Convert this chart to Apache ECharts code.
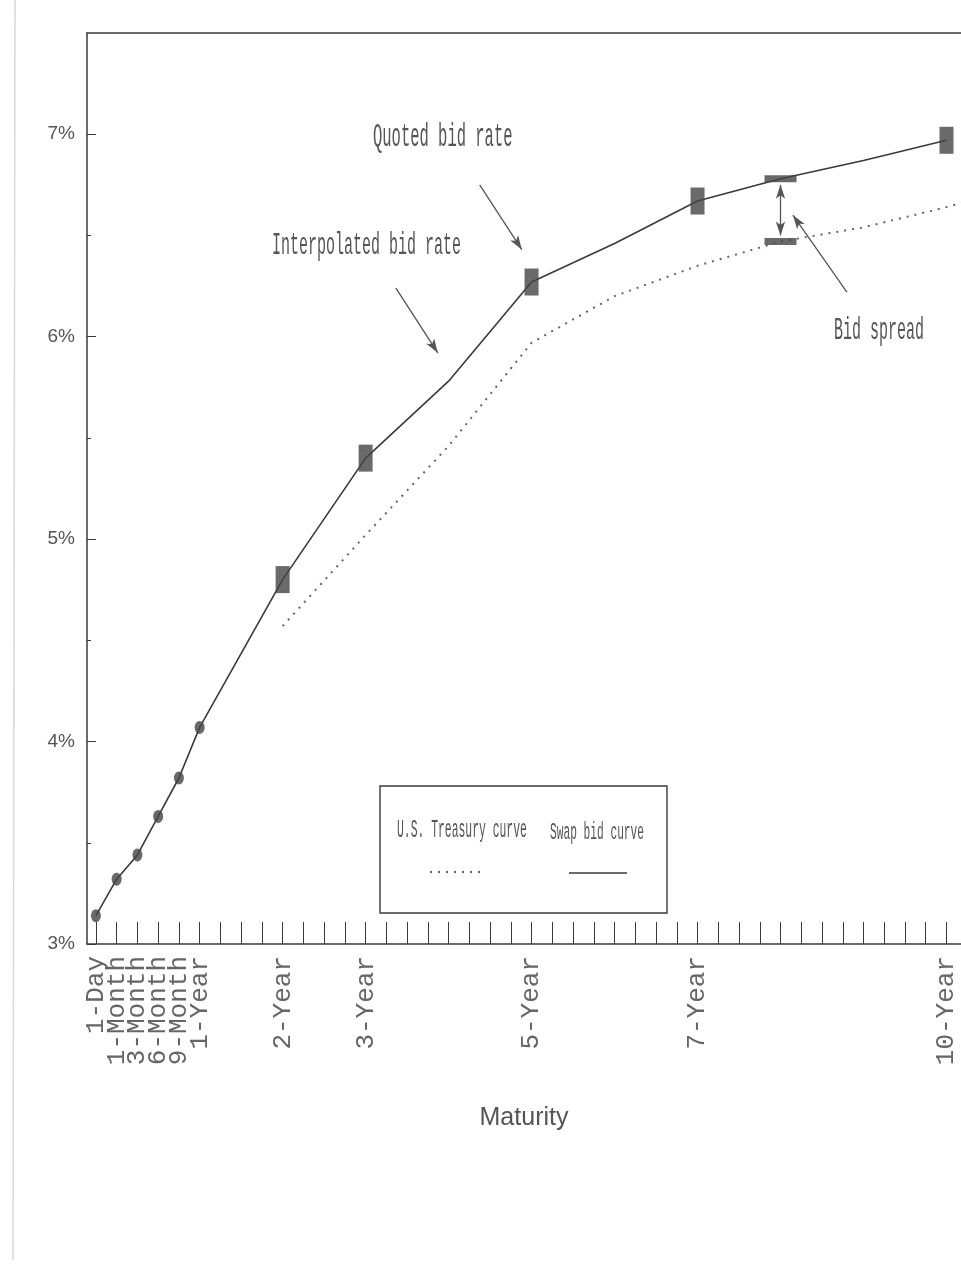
<!DOCTYPE html>
<html>
<head>
<meta charset="utf-8">
<script src="https://cdn.jsdelivr.net/npm/echarts@6/dist/echarts.min.js"></script>
<style>
html, body { margin: 0; padding: 0; background: #fff; }
#chart { width: 961px; height: 1270px; }
</style>
</head>
<body>
<div id="chart"></div>
<script>
// x axis runs in quarters of a year: 1-Year = 5, 2-Year = 9 ... 10-Year = 41
var maturityLabels = ['1-Day', '1-Month', '3-Month', '6-Month', '9-Month', '1-Year', '2-Year', '3-Year', '5-Year', '7-Year', '10-Year'];
var maturityPos = [0, 1, 2, 3, 4, 5, 9, 13, 21, 29, 41];

// swap bid curve (quoted + interpolated points)
var swapPos = [0, 1, 2, 3, 4, 5, 9, 13, 17, 21, 25, 29, 33, 37, 41];
var swapRates = [3.14, 3.32, 3.44, 3.63, 3.82, 4.07, 4.80, 5.40, 5.78, 6.27, 6.46, 6.67, 6.78, 6.87, 6.97];

// U.S. treasury curve (dotted)
var treasuryPos = [9, 13, 17, 21, 25, 29, 33, 37, 41, 41.7];
var treasuryRates = [4.57, 5.02, 5.46, 5.97, 6.20, 6.35, 6.47, 6.54, 6.64, 6.66];

// bid spread shown at 8-Year
var spreadPos = 33;
var spreadTop = 6.78;
var spreadBottom = 6.47;

var yMajorTicks = [3, 4, 5, 6, 7];
var yHalfTicks = [3.5, 4.5, 5.5, 6.5];

var xMin = -0.43, xMax = 41.7;

var quarterTicks = [];
for (var i = 0; i <= 41; i++) quarterTicks.push(i);

function pairs(xs, ys) {
    return xs.map(function (x, k) { return [x, ys[k]]; });
}

// quoted points: the swap points that sit on a labelled maturity
var quotedShort = [], quotedLong = [];
swapPos.forEach(function (p, k) {
    if (maturityPos.indexOf(p) < 0) return;
    if (p <= 5) quotedShort.push([p, swapRates[k]]);
    else quotedLong.push([p, swapRates[k]]);
});

// blank label at the right end goes first so the crowded short-end labels are not dropped
var labelValues = [xMax].concat(maturityPos);

var ink = '#3a3a3a';
var textInk = '#555';
var mono = '"Liberation Mono", "DejaVu Sans Mono", monospace';
var sans = '"Liberation Sans", Arial, sans-serif';

var chart = echarts.init(document.getElementById('chart'));

var option = {
    backgroundColor: '#fff',
    animation: false,
    grid: { left: 87, right: 0, top: 33, bottom: 326, containLabel: false },
    xAxis: [{
        type: 'value',
        min: xMin,
        max: xMax,
        axisLine: { onZero: false, lineStyle: { color: ink, width: 1.5 } },
        axisTick: { inside: true, length: 22, customValues: quarterTicks, lineStyle: { color: ink, width: 1 } },
        splitLine: { show: false },
        axisLabel: {
            customValues: labelValues,
            showMinLabel: true,
            showMaxLabel: true,
            hideOverlap: false,
            rotate: 90,
            margin: 12,
            color: '#666',
            fontFamily: mono,
            fontSize: 26,
            formatter: function (v) {
                var k = maturityPos.indexOf(v);
                return k < 0 ? '' : maturityLabels[k];
            }
        },
        name: 'Maturity',
        nameLocation: 'middle',
        nameGap: 162,
        nameTextStyle: { color: textInk, fontFamily: sans, fontSize: 25 }
    }, {
        type: 'value',
        position: 'top',
        min: xMin,
        max: xMax,
        axisLine: { onZero: false, lineStyle: { color: ink, width: 1.5 } },
        axisTick: { show: false },
        axisLabel: { show: false },
        splitLine: { show: false }
    }],
    yAxis: [{
        type: 'value',
        min: 3,
        max: 7.5,
        axisLine: { show: true, onZero: false, lineStyle: { color: ink, width: 1.5 } },
        axisTick: { inside: true, length: 9, customValues: yMajorTicks, lineStyle: { color: ink } },
        splitLine: { show: false },
        axisLabel: {
            customValues: yMajorTicks,
            showMinLabel: true,
            margin: 12,
            color: textInk,
            fontFamily: sans,
            fontSize: 19,
            formatter: function (v) { return v + '%'; }
        }
    }, {
        type: 'value',
        position: 'left',
        min: 3,
        max: 7.5,
        axisLine: { show: false, onZero: false },
        axisTick: { inside: true, length: 4, customValues: yHalfTicks, lineStyle: { color: ink } },
        axisLabel: { show: false },
        splitLine: { show: false }
    }],
    series: [{
        name: 'U.S. Treasury curve',
        type: 'line',
        data: pairs(treasuryPos, treasuryRates),
        showSymbol: false,
        lineStyle: { color: '#666', width: 2, type: [2, 6] },
        silent: true,
        z: 2
    }, {
        name: 'Swap bid curve',
        type: 'line',
        data: pairs(swapPos, swapRates),
        showSymbol: false,
        lineStyle: { color: ink, width: 1.6 },
        silent: true,
        z: 3,
        markLine: {
            silent: true,
            symbol: ['none', 'arrow'],
            symbolSize: [7, 14],
            label: { show: false },
            lineStyle: { color: '#555', width: 1.3, type: 'solid' },
            data: [
                [{ coord: [18.5, 6.75] }, { coord: [20.53, 6.43] }],
                [{ coord: [14.46, 6.24] }, { coord: [16.48, 5.92] }],
                [{ coord: [36.2, 6.22] }, { coord: [33.6, 6.60] }],
                [{ coord: [spreadPos, spreadTop - 0.03], symbol: 'arrow' }, { coord: [spreadPos, spreadBottom + 0.03], symbol: 'arrow' }]
            ]
        }
    }, {
        name: 'Quoted short',
        type: 'scatter',
        data: quotedShort,
        symbol: 'circle',
        symbolSize: [10, 13],
        itemStyle: { color: '#444' },
        silent: true,
        z: 4
    }, {
        name: 'Quoted long',
        type: 'scatter',
        data: quotedLong,
        symbol: 'rect',
        symbolSize: [14, 27],
        itemStyle: { color: '#454545' },
        silent: true,
        z: 4
    }, {
        name: 'Bid spread',
        type: 'scatter',
        data: [[spreadPos, spreadTop], [spreadPos, spreadBottom]],
        symbol: 'rect',
        symbolSize: [32, 7],
        itemStyle: { color: '#444' },
        silent: true,
        z: 4
    }],
    graphic: [
        // faint scan edge on the left
        { type: 'line', shape: { x1: 15, y1: 0, x2: 13, y2: 1260 }, style: { stroke: '#d8d8d8', lineWidth: 1.5 }, silent: true },
        { type: 'text', x: 373, y: 137, scaleY: 2.1, style: { text: 'Quoted bid rate', font: '15.5px ' + mono, fill: textInk, align: 'left', verticalAlign: 'middle' } },
        { type: 'text', x: 272, y: 246, scaleY: 2.1, style: { text: 'Interpolated bid rate', font: '15px ' + mono, fill: textInk, align: 'left', verticalAlign: 'middle' } },
        { type: 'text', x: 834, y: 331, scaleY: 2.1, style: { text: 'Bid spread', font: '15px ' + mono, fill: textInk, align: 'left', verticalAlign: 'middle' } },
        // legend box
        { type: 'rect', shape: { x: 380, y: 786, width: 287, height: 127 }, style: { fill: 'none', stroke: ink, lineWidth: 1.4 }, silent: true },
        { type: 'text', x: 397, y: 830, scaleY: 2.2, style: { text: 'U.S. Treasury curve', font: '11.4px ' + mono, fill: textInk, align: 'left', verticalAlign: 'middle' } },
        { type: 'text', x: 550, y: 832, scaleY: 2.2, style: { text: 'Swap bid curve', font: '11.2px ' + mono, fill: textInk, align: 'left', verticalAlign: 'middle' } },
        { type: 'line', shape: { x1: 430, y1: 872, x2: 486, y2: 872 }, style: { stroke: '#666', lineWidth: 2, lineDash: [2, 6] }, silent: true },
        { type: 'line', shape: { x1: 569, y1: 873, x2: 627, y2: 873 }, style: { stroke: ink, lineWidth: 1.6 }, silent: true }
    ]
};

chart.setOption(option);
</script>
</body>
</html>
